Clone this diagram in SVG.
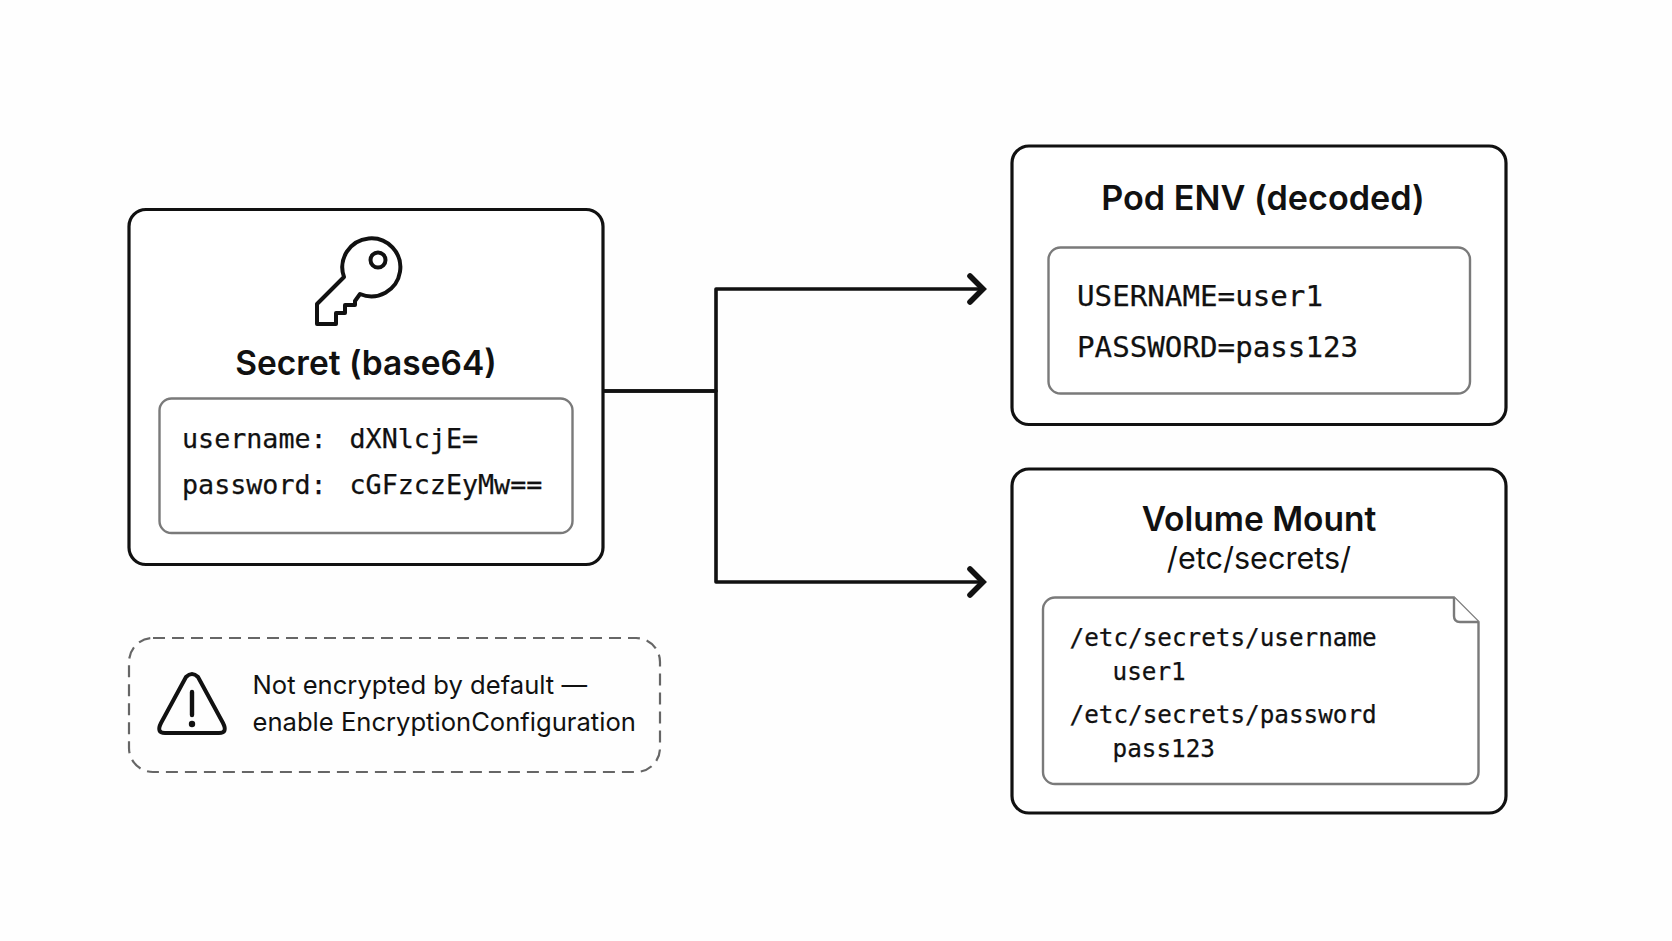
<svg xmlns="http://www.w3.org/2000/svg" width="1672" height="941" viewBox="0 0 1672 941">
<style>
.outer{fill:#fff;stroke:#111;stroke-width:3.2}
.inner{fill:#fff;stroke:#7a7a7a;stroke-width:2.4}
.title{font-family:Inter,"Liberation Sans",sans-serif;font-weight:600;font-size:33.5px;fill:#111;text-anchor:middle}
.sub{font-family:Inter,"Liberation Sans",sans-serif;font-size:30.6px;fill:#111;text-anchor:middle}
.note{font-family:Inter,"Liberation Sans",sans-serif;font-size:25.6px;fill:#111}
.mono{font-family:"DejaVu Sans Mono","Liberation Mono",monospace;fill:#111;stroke:#111;stroke-width:.25}
.icon{fill:none;stroke:#111;stroke-width:4;stroke-linejoin:round;stroke-linecap:round}
.conn{fill:none;stroke:#111;stroke-width:3.6;stroke-linejoin:round}
</style>
<defs>
<marker id="arrow" markerUnits="userSpaceOnUse" markerWidth="24" markerHeight="36" viewBox="0 0 24 36" refX="20" refY="18" orient="auto">
<path d="M6,5 L19,18 L6,31" fill="none" stroke="#111" stroke-width="5.6" stroke-linecap="round" stroke-linejoin="miter"/>
</marker>
</defs>
<rect width="1672" height="941" fill="#fefefe"/>
<g id="connectors">
<path class="conn" d="M603,391 H716 V289 H984" marker-end="url(#arrow)"/>
<path class="conn" d="M603,391 H716 V582 H984" marker-end="url(#arrow)"/>
</g>
<g id="secret">
<rect class="outer" x="129" y="209.5" width="474" height="355" rx="17"/>
<path class="icon" d="M344,277 A29,29 0 1 1 360,294 L355,301 L355,305 L345,305 L345,313 L336,313 L336,324 L317,324 L317,304 Z"/>
<circle class="icon" cx="378" cy="260" r="7.5"/>
<text class="title" x="366" y="375">Secret (base64)</text>
<rect class="inner" x="159.5" y="398.5" width="413" height="134.5" rx="12"/>
<text class="mono" font-size="26.7" x="182" y="448">username:</text>
<text class="mono" font-size="26.7" x="349.5" y="448">dXNlcjE=</text>
<text class="mono" font-size="26.7" x="182" y="494">password:</text>
<text class="mono" font-size="26.7" x="349.5" y="494">cGFzczEyMw==</text>
</g>
<g id="warning">
<rect x="129" y="638" width="531" height="134" rx="24" fill="none" stroke="#666" stroke-width="2.2" stroke-dasharray="12 7"/>
<path class="icon" d="M186,677 Q192,671 198,677 L223,723 Q228,733 219,733 L165,733 Q156,733 161,723 Z"/>
<path d="M192,692 V715" fill="none" stroke="#111" stroke-width="4.4" stroke-linecap="round"/>
<circle cx="192" cy="724" r="3.200" fill="#111"/>
<text class="note" x="252.500" y="694">Not encrypted by default —</text>
<text class="note" x="252.500" y="731">enable EncryptionConfiguration</text>
</g>
<g id="pod-env">
<rect class="outer" x="1012" y="146" width="494" height="278.500" rx="17"/>
<text class="title" style="font-size:34.2px" x="1263" y="210">Pod ENV (decoded)</text>
<rect class="inner" x="1048.500" y="247.500" width="421.500" height="146" rx="12"/>
<text class="mono" font-size="29.2" x="1077" y="306">USERNAME=user1</text>
<text class="mono" font-size="29.2" x="1077" y="357">PASSWORD=pass123</text>
</g>
<g id="volume-mount">
<rect class="outer" x="1012" y="469" width="494" height="344" rx="17"/>
<text class="title" x="1259" y="530.500">Volume Mount</text>
<text class="sub" x="1259" y="569">/etc/secrets/</text>
<path class="inner" d="M1055,597.500 H1454 L1478.500,622 V772 A12,12 0 0 1 1466.500,784 H1055 A12,12 0 0 1 1043,772 V609.500 A12,12 0 0 1 1055,597.500 Z"/>
<path class="inner" d="M1454,597.500 V616 Q1454,622 1460,622 H1478.500" fill="none"/>
<text class="mono" font-size="24.300" x="1069.500" y="646">/etc/secrets/username</text>
<text class="mono" font-size="24.300" x="1112.500" y="680">user1</text>
<text class="mono" font-size="24.300" x="1069.500" y="723">/etc/secrets/password</text>
<text class="mono" font-size="24.300" x="1112.500" y="757">pass123</text>
</g>
</svg>
